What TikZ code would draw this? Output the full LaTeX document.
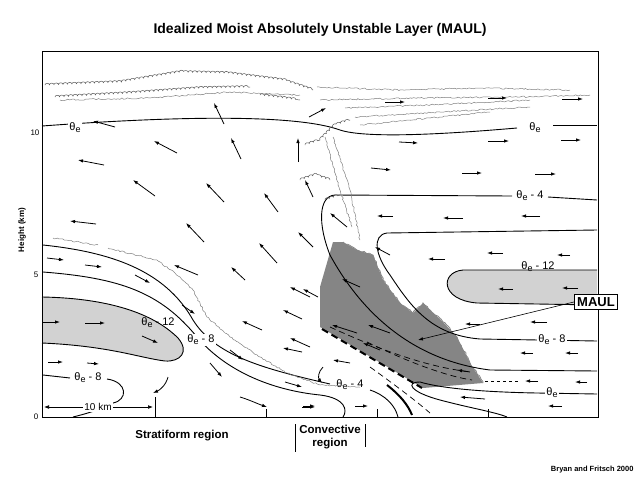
\documentclass[tikz,border=0pt]{standalone}
\usepackage{fontspec}
\setmainfont{Liberation Sans}
\usetikzlibrary{decorations.pathmorphing,arrows.meta}
\newcommand{\thE}[1]{θ\raisebox{-0.35ex}{\small e}#1}
\begin{document}
\begin{tikzpicture}[x=1pt,y=-1pt,
  ar/.style={-{Latex[length=5pt,width=3.5pt]},line width=0.8pt},
  cont/.style={line width=0.9pt},
  lbl/.style={fill=white,inner sep=1pt,font=\fontsize{11}{11}\selectfont},
  wav/.style={draw=gray,line width=0.5pt,decorate,decoration={random steps,segment length=2pt,amplitude=0.7pt}},
  cld/.style={draw=gray!70!black,line width=0.5pt,decorate,decoration={bumps,segment length=9pt,amplitude=1.6pt}},
  tick/.style={line width=0.8pt}]
\useasboundingbox (0,0) rectangle (640,480);
\node[font=\bfseries\fontsize{14}{14}\selectfont] (title) at (320,30) {Idealized Moist Absolutely Unstable Layer (MAUL)};
% gray blobs
\fill[gray!35] (42,297) .. controls (100,298) and (150,310) .. (178,338) .. controls (190,352) and (180,362) .. (165,361) .. controls (140,358) and (110,346) .. (42,343) -- cycle;
\draw[cont] (42,297) .. controls (100,298) and (150,310) .. (178,338) .. controls (190,352) and (180,362) .. (165,361) .. controls (140,358) and (110,346) .. (42,343);
\fill[gray!35] (597,270) -- (463,270) .. controls (440,272) and (440,300) .. (477,303) -- (597,305) -- cycle;
\draw[cont] (597,270) -- (463,270) .. controls (440,272) and (440,300) .. (477,303) -- (597,305);
% MAUL dark region
\fill[black!48] (333,242) -- (320,287) -- (320,327) -- (423,388) -- (483,383) -- (470,363) -- (457,337) -- (443,322) -- (423,303) -- (413,313) -- (400,303) -- (383,280) -- (373,255) -- (357,250) -- (343,242) -- cycle;
\draw[black!48,line width=0.8pt,decorate,decoration={random steps,segment length=2.5pt,amplitude=1pt}] (343,242) -- (357,250) -- (373,255) -- (383,280) -- (400,303) -- (413,313) -- (423,303) -- (443,322) -- (457,337) -- (470,363) -- (483,383);
% frame
\draw[line width=1pt] (42,51) rectangle (598,417);
\node[font=\fontsize{8}{8}\selectfont] (y10) at (35,133) {10};
\node[font=\fontsize{8}{8}\selectfont] (y5) at (36,275) {5};
\node[font=\fontsize{8}{8}\selectfont] (y0) at (36,417) {0};
\node[rotate=90,font=\bfseries\fontsize{8}{8}\selectfont] (ylab) at (22,230) {Height (km)};
% contours
\draw[cont] (42,126) .. controls (150,118) and (290,112) .. (340,130) .. controls (370,140) and (470,132) .. (517,128);
\draw[cont] (553,125) -- (597,125);
\node[lbl] (l1) at (75,128) {\thE{}};
\node[lbl] (l2) at (535,128) {\thE{}};
\draw[cont] (597,200) -- (548,197);
\draw[cont] (512,196) -- (335,195) .. controls (318,196) and (318,225) .. (330,255) .. controls (360,310) and (410,360) .. (490,370) -- (597,371);
\node[lbl] (l3) at (530,196) {\thE{ - 4}};
\draw[cont] (597,230) -- (387,233) .. controls (372,235) and (375,255) .. (390,275) .. controls (410,305) and (430,335) .. (480,339) -- (597,341);
\node[lbl] (l4) at (552,340) {\thE{ - 8}};
\node[lbl,fill=none] (l5) at (538,267) {\thE{ - 12}};
\draw[cont] (597,394) -- (537,393) .. controls (480,392) and (440,388) .. (420,382) .. controls (405,382) and (410,392) .. (440,400) .. controls (470,408) and (495,412) .. (507,417);
\node[lbl] (l6) at (552,393) {\thE{}};
\draw[cont,dashed] (485,381) -- (520,381);
% left contours
\draw[cont] (43,245) .. controls (110,252) and (165,270) .. (193,320) .. controls (215,355) and (260,368) .. (330,384);
\draw[cont] (370,390) .. controls (385,395) and (395,405) .. (398,417);
\node[lbl] (l7) at (350,385) {\thE{ - 4}};
\draw[cont] (43,272) .. controls (120,278) and (160,292) .. (197,337) .. controls (225,370) and (270,390) .. (320,395) .. controls (345,398) and (348,410) .. (343,417);
\node[lbl] (l8) at (201,340) {\thE{ - 8}};
\node[lbl,fill=none] (l9) at (158,323) {\thE{ - 12}};
\draw[cont] (43,375) -- (70,378);
\draw[cont] (107,379) .. controls (128,382) and (128,400) .. (113,403) .. controls (100,410) and (85,414) .. (73,417);
\node[lbl,fill=none] (l10) at (88,378) {\thE{ - 8}};
% wavy boundary
\draw[wav] (53,238) -- (98,245);
\draw[wav] (108,248) -- (157,260) -- (180,277) -- (193,290) -- (207,317) -- (230,337) -- (260,357) -- (287,373) -- (320,385) -- (360,387);
% cloud anvil
\draw[cld] (45,85) -- (120,82) -- (180,72) -- (227,73) -- (283,80) -- (313,90);
\draw[cld] (55,97) -- (130,93) -- (200,88) -- (250,87);
\draw[wav] (60,100) -- (150,98) -- (230,92) -- (300,95);
\draw[wav] (317,87) -- (400,90) -- (480,88) -- (570,90);
\draw[wav] (320,100) -- (420,98) -- (520,97) -- (590,95);
\draw[wav] (345,108) -- (430,105) -- (530,100);
\draw[wav] (355,117) -- (440,112) -- (530,107);
\draw[wav] (360,125) -- (430,118) -- (490,112);
\draw[cld] (260,95) -- (300,100);
% tower
\draw[wav] (325,137) -- (340,190) -- (352,227);
\draw[wav] (333,137) -- (350,190) -- (360,240);
\draw[cld] (305,145) -- (320,140);
\draw[cld] (300,180) -- (315,175) -- (330,180);
\draw[cld] (325,200) -- (340,195);
\draw[cld] (320,140) -- (335,125) -- (350,120);
% dashed lines
\draw[line width=2pt,dash pattern=on 7pt off 4pt] (322,329) -- (422,388);
\draw[line width=2pt] (387,385) .. controls (400,395) and (408,405) .. (412,415);
\draw[line width=0.7pt,dash pattern=on 6pt off 4pt] (330,327) .. controls (380,350) and (430,368) .. (472,372);
\draw[line width=0.7pt,dash pattern=on 6pt off 4pt] (367,342) .. controls (400,358) and (440,375) .. (472,380);
\draw[line width=0.7pt,dash pattern=on 6pt off 4pt] (370,367) .. controls (395,385) and (415,400) .. (430,413);
% ticks and scale
\draw[tick] (155,397) -- (155,417);
\draw[tick] (266,409) -- (266,417);
\draw[tick] (377,409) -- (377,417);
\draw[tick] (488,409) -- (488,417);
\node[font=\fontsize{10}{10}\selectfont,fill=white,inner sep=1pt] (km) at (98,407) {10 km};
\draw[{Latex[length=5pt]}-,line width=0.7pt] (44,407) -- (km.west);
\draw[-{Latex[length=5pt]},line width=0.7pt] (km.east) -- (153,407);
% arrows
\foreach \a/\b/\c/\d in {224/124/214/103, 115/127/93/121, 177/153/154/141, 241/159/231/138, 104/165/78/160, 155/196/133/180, 224/202/206/183, 278/212/264/193, 298/162/298/138, 313/197/305/180, 309/117/326/108, 96/224/70/221, 204/242/186/223, 277/263/259/243, 313/247/298/232, 347/227/330/213, 198/275/174/265, 245/280/231/267, 47/258/64/260, 85/265/102/267,
385/102/405/102, 488/98/507/98, 562/99/583/99, 399/142/418/143, 488/141/509/141, 561/140/581/140, 371/168/391/170, 462/173/482/173, 535/174/556/174, 393/216/377/216, 463/218/443/218, 540/216/521/216,
360/287/342/279, 390/333/368/325, 357/333/332/325, 380/350/363/343, 350/363/333/360, 470/372/457/370, 485/399/460/397, 390/255/375/247, 445/259/428/259, 503/253/487/253, 570/255/557/255, 513/289/498/289, 578/288/562/288, 480/324/465/324, 547/322/530/322, 533/353/520/353, 578/353/565/353, 538/381/525/381, 587/382/575/382, 562/406/548/406, 310/347/290/338, 310/297/290/287, 303/406/315/406, 355/406/368/406,
135/275/150/283, 43/322/60/322, 85/323/105/323, 142/336/158/343, 182/305/195/314, 48/362/63/362, 87/363/99/364, 230/350/243/360, 210/363/222/377, 285/382/302/387, 302/407/315/407, 262/330/242/321, 302/352/283/348, 302/319/283/310, 318/297/303/289}
  \draw[ar] (\a,\b) -- (\c,\d);
\draw[ar] (240,397) .. controls (250,400) and (258,404) .. (267,407);
\draw[ar] (168,377) .. controls (166,385) and (160,390) .. (153,393);
\draw[ar] (323,367) .. controls (318,372) and (318,378) .. (322,383);
% MAUL
\node[draw,fill=white,line width=0.8pt,font=\bfseries\fontsize{13}{13}\selectfont,inner sep=3pt] (maul) at (596,302) {MAUL};
\coordinate (maulpt) at (418,340);
\draw[ar,line width=0.6pt] (maul.west) -- (maulpt);
% bottom labels
\node[font=\bfseries\fontsize{11.5}{11.5}\selectfont] (strat) at (182,436) {Stratiform region};
\node[font=\bfseries\fontsize{11.5}{13}\selectfont,align=center] (conv) at (330,437) {Convective\\region};
\draw[line width=0.7pt] (295,424) -- (295,452);
\draw[line width=0.7pt] (365,424) -- (365,447);
\node[font=\bfseries\fontsize{7.5}{7.5}\selectfont,anchor=east] (cite) at (637,470) {Bryan and Fritsch 2000};
\end{tikzpicture}
\end{document}
